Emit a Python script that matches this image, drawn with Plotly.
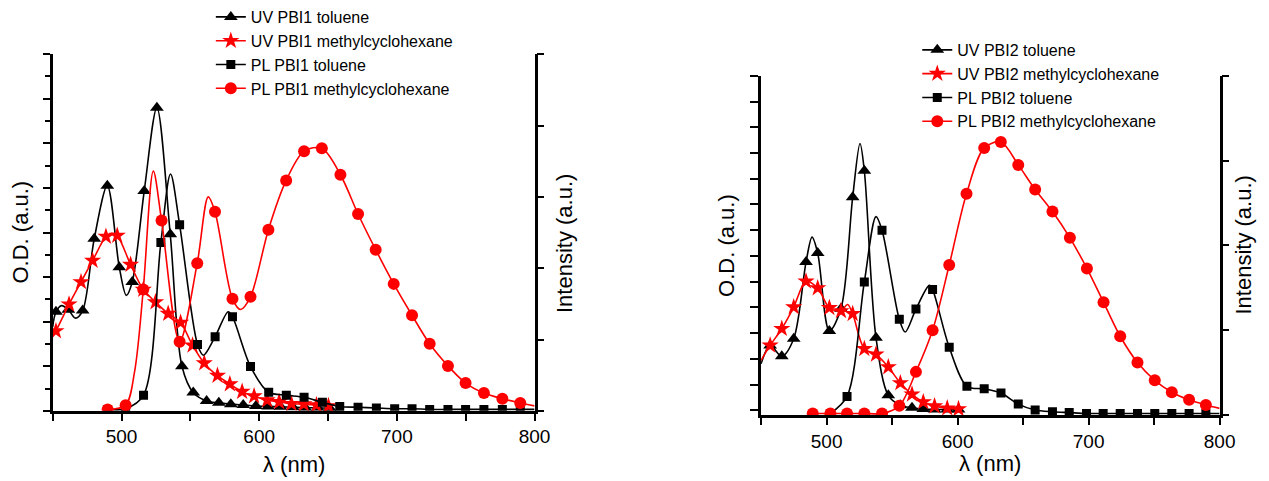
import plotly.graph_objects as go

# ================= PBI1 (left panel) =================
uv1_tol_wl = [452.4, 461.4, 471.8, 480.2, 489.7, 498.4, 507.8, 516.5, 525.7, 535.4, 543.9, 552.1,
              561.8, 570.7, 579.4, 588.4, 597.6, 606.5, 615.5, 624.5, 633.5, 642.5, 651.3]
uv1_tol_od = [2.22, 2.27, 2.25, 3.86, 5.05, 3.22, 2.89, 4.93, 6.80, 3.96, 1.00, 0.41,
              0.22, 0.18, 0.15, 0.13, 0.11, 0.10, 0.09, 0.08, 0.07, 0.07, 0.06]
uv1_tol_wl_x = [450.0, 456.5, 466.5, 503.5]
uv1_tol_od_x = [1.88, 2.36, 2.08, 2.59]

uv1_mch_wl = [452.4, 461.9, 470.6, 479.0, 488.7, 496.9, 506.6, 515.8, 524.7, 533.9, 542.9, 551.6,
              560.1, 569.7, 578.7, 587.6, 596.3, 605.8, 614.5, 623.4, 632.4, 641.6, 650.3]
uv1_mch_od = [1.79, 2.39, 2.89, 3.37, 3.91, 3.93, 3.28, 2.72, 2.44, 2.18, 1.98, 1.47,
              1.07, 0.79, 0.60, 0.43, 0.33, 0.24, 0.20, 0.16, 0.15, 0.13, 0.11]
uv1_mch_wl_x = [450.0, 492.8]
uv1_mch_od_x = [1.66, 3.98]

pl1_tol_wl = [489.9, 503.0, 516.0, 528.6, 542.2, 555.2, 568.0, 580.6, 593.7, 606.9, 619.7, 632.6,
              645.9, 658.5, 671.8, 685.1, 698.4, 711.0, 723.8, 737.1, 749.9, 763.2, 776.6, 789.6]
pl1_tol_int = [0.02, 0.03, 0.22, 2.36, 2.61, 0.93, 1.04, 1.32, 0.62, 0.26, 0.22, 0.19,
               0.12, 0.06, 0.05, 0.04, 0.03, 0.03, 0.02, 0.02, 0.02, 0.02, 0.02, 0.02]
pl1_tol_wl_x = [535.6, 559.5, 577.5, 800.0]
pl1_tol_int_x = [3.32, 0.78, 1.39, 0.02]

pl1_mch_wl = [489.9, 503.0, 515.8, 529.1, 542.2, 555.0, 567.9, 580.6, 593.7, 606.7, 619.6, 632.6,
              645.5, 659.0, 671.8, 684.6, 697.7, 711.0, 723.8, 737.1, 749.9, 763.2, 776.6, 789.6]
pl1_mch_int = [0.02, 0.08, 1.70, 2.67, 0.97, 2.07, 2.79, 1.57, 1.60, 2.54, 3.23, 3.64,
               3.68, 3.31, 2.76, 2.26, 1.78, 1.34, 0.94, 0.63, 0.39, 0.25, 0.17, 0.11]
pl1_mch_wl_x = [509.5, 523.1, 563.0, 586.5, 800.0]
pl1_mch_int_x = [0.55, 3.36, 3.00, 1.42, 0.07]

# ================= PBI2 (right panel) =================
uv2_tol_wl = [456.9, 465.8, 474.9, 484.3, 493.2, 502.1, 511.0, 519.9, 528.8, 537.7, 547.1, 556.3,
              565.2, 573.8, 582.4, 592.1, 600.7]
uv2_tol_od = [2.52, 2.10, 2.78, 5.76, 6.11, 3.08, 3.95, 8.28, 9.31, 2.82, 0.58, 0.19,
              0.10, 0.05, 0.03, 0.03, 0.03]
uv2_tol_wl_x = [450.0, 488.9, 525.5]
uv2_tol_od_x = [1.81, 6.73, 10.37]

uv2_mch_wl = [456.9, 465.8, 474.9, 484.3, 493.2, 502.1, 511.0, 519.9, 528.8, 537.7, 547.1, 556.3,
              565.2, 573.8, 582.4, 592.1, 600.7]
uv2_mch_od = [2.52, 3.17, 4.01, 5.01, 4.75, 3.98, 3.86, 3.75, 2.39, 2.17, 1.68, 1.06,
              0.62, 0.32, 0.16, 0.08, 0.05]
uv2_mch_wl_x = [450.0, 516.0]
uv2_mch_od_x = [1.94, 4.11]

pl2_tol_wl = [502.9, 515.6, 528.8, 542.3, 555.5, 568.2, 580.9, 593.6, 607.1, 620.3, 633.1,
              646.3, 659.2, 672.4, 685.2, 698.4, 711.1, 724.1, 737.3, 750.5, 763.5, 776.7, 789.5]
pl2_tol_int = [0.02, 0.22, 1.57, 2.18, 1.13, 1.25, 1.48, 0.80, 0.34, 0.31, 0.26,
               0.13, 0.06, 0.04, 0.03, 0.02, 0.02, 0.02, 0.02, 0.02, 0.02, 0.02, 0.02]
pl2_tol_wl_x = [537.7, 560.0, 578.4, 800.0]
pl2_tol_int_x = [2.34, 0.98, 1.53, 0.02]

pl2_mch_wl = [489.4, 502.9, 515.6, 528.8, 542.3, 555.5, 568.2, 580.9, 593.6, 606.8, 620.3, 633.0,
              646.3, 659.2, 672.4, 685.7, 698.7, 711.4, 724.1, 737.3, 750.5, 763.5, 776.7, 789.5]
pl2_mch_int = [0.02, 0.02, 0.02, 0.02, 0.02, 0.11, 0.51, 1.00, 1.77, 2.61, 3.15, 3.22,
               2.95, 2.66, 2.40, 2.09, 1.73, 1.33, 0.93, 0.62, 0.41, 0.27, 0.18, 0.12]
pl2_mch_wl_x = [800.0]
pl2_mch_int_x = [0.08]

names1 = ["UV PBI1 toluene", "UV PBI1 methylcyclohexane", "PL PBI1 toluene", "PL PBI1 methylcyclohexane"]
names2 = ["UV PBI2 toluene", "UV PBI2 methylcyclohexane", "PL PBI2 toluene", "PL PBI2 methylcyclohexane"]

FONT = "Arial, 'Liberation Sans', sans-serif"
BLACK = "#000000"
RED = "#ff0000"
styles = [
    dict(color=BLACK, symbol="triangle-up", size=12),
    dict(color=RED, symbol="star", size=13),
    dict(color=BLACK, symbol="square", size=9),
    dict(color=RED, symbol="circle", size=12),
]


def merged(wl, val, wlx, valx):
    pts = sorted(zip(list(wl) + list(wlx), list(val) + list(valx)))
    return [p[0] for p in pts], [p[1] for p in pts]


fig = go.Figure()


def add_series(name, wl, val, wlx, valx, st, xa, ya, legend):
    cx, cy = merged(wl, val, wlx, valx)
    fig.add_trace(go.Scatter(x=cx, y=cy, mode="lines", line=dict(color=st["color"], width=1.6, shape="spline", smoothing=0.9),
                             xaxis=xa, yaxis=ya, showlegend=False, hoverinfo="skip"))
    fig.add_trace(go.Scatter(x=wl, y=val, mode="markers",
                             marker=dict(color=st["color"], symbol=st["symbol"], size=st["size"], line=dict(width=0)),
                             xaxis=xa, yaxis=ya, showlegend=False, name=name))
    fig.add_trace(go.Scatter(x=[None], y=[None], mode="lines+markers", name=name,
                             line=dict(color=st["color"], width=1.6),
                             marker=dict(color=st["color"], symbol=st["symbol"], size=st["size"], line=dict(width=0)),
                             xaxis=xa, yaxis=ya, legend=legend))


left = [(uv1_tol_wl, uv1_tol_od, uv1_tol_wl_x, uv1_tol_od_x, "y"),
        (uv1_mch_wl, uv1_mch_od, uv1_mch_wl_x, uv1_mch_od_x, "y"),
        (pl1_tol_wl, pl1_tol_int, pl1_tol_wl_x, pl1_tol_int_x, "y2"),
        (pl1_mch_wl, pl1_mch_int, pl1_mch_wl_x, pl1_mch_int_x, "y2")]
right = [(uv2_tol_wl, uv2_tol_od, uv2_tol_wl_x, uv2_tol_od_x, "y3"),
         (uv2_mch_wl, uv2_mch_od, uv2_mch_wl_x, uv2_mch_od_x, "y3"),
         (pl2_tol_wl, pl2_tol_int, pl2_tol_wl_x, pl2_tol_int_x, "y4"),
         (pl2_mch_wl, pl2_mch_int, pl2_mch_wl_x, pl2_mch_int_x, "y4")]

for i, (wl, v, wx, vx, ya) in enumerate(left):
    add_series(names1[i], wl, v, wx, vx, styles[i], "x", ya, "legend")
for i, (wl, v, wx, vx, ya) in enumerate(right):
    add_series(names2[i], wl, v, wx, vx, styles[i], "x2", ya, "legend2")

W, H = 1269, 481
WX = 1254.0   # horizontal extent of the figure as it appears in the photographed page
L1, R1, T1, B1 = 52.7, 535.0, 53.3, 410.7
L2, R2, T2, B2 = 761.7, 1220.6, 75.0, 415.0

AX_LW = 2.5
xcommon = dict(range=[450, 800], showline=True, linecolor=BLACK, linewidth=AX_LW, mirror=False,
               ticks="outside", ticklen=7, tickwidth=2, tickcolor=BLACK, dtick=100, tick0=500,
               minor=dict(dtick=50, ticks="outside", ticklen=7, tickwidth=2, tickcolor=BLACK, showgrid=False),
               showgrid=False, zeroline=False,
               tickfont=dict(family=FONT, size=19, color=BLACK))
ycommon = dict(showline=True, linecolor=BLACK, linewidth=AX_LW, ticks="outside", tickwidth=2,
               tickcolor=BLACK, showticklabels=False, showgrid=False, zeroline=False)

fig.update_layout(
    width=W, height=H, autosize=False, margin=dict(l=0, r=0, t=0, b=0),
    paper_bgcolor="white", plot_bgcolor="white",
    font=dict(family=FONT, color=BLACK),
    xaxis=dict(domain=[L1 / WX, R1 / WX], anchor="y", **xcommon),
    yaxis=dict(domain=[1 - B1 / H, 1 - T1 / H], anchor="x", range=[0, 8], dtick=1, ticklen=7,
               minor=dict(dtick=0.5, ticks="outside", ticklen=5, tickwidth=2, tickcolor=BLACK, showgrid=False),
               **ycommon),
    yaxis2=dict(overlaying="y", side="right", anchor="x", range=[0, 5], dtick=1, ticklen=7, **ycommon),
    xaxis2=dict(domain=[L2 / WX, R2 / WX], anchor="y3", **xcommon),
    yaxis3=dict(domain=[1 - B2 / H, 1 - T2 / H], anchor="x2", range=[-0.19, 13], dtick=1, tick0=0, ticklen=8,
                **ycommon),
    yaxis4=dict(overlaying="y3", side="right", anchor="x2", range=[0, 4], dtick=1, ticklen=7, **ycommon),
    legend=dict(x=211 / WX, y=1 + 1 / H, xanchor="left", yanchor="top", bgcolor="rgba(0,0,0,0)",
                font=dict(family=FONT, size=16, color=BLACK), tracegroupgap=0, itemwidth=30),
    legend2=dict(x=918 / WX, y=1 - 32 / H, xanchor="left", yanchor="top", bgcolor="rgba(0,0,0,0)",
                 font=dict(family=FONT, size=16, color=BLACK), tracegroupgap=0, itemwidth=30),
)

title_font = dict(family=FONT, size=22, color=BLACK)
ann = [
    dict(text="O.D. (a.u.)", x=21 / WX, y=1 - 231 / H, textangle=-90),
    dict(text="Intensity (a.u.)", x=565 / WX, y=1 - 243 / H, textangle=-90),
    dict(text="λ (nm)", x=(L1 + R1) / 2 / WX, y=1 - 464 / H, textangle=0),
    dict(text="O.D. (a.u.)", x=727 / WX, y=1 - 245 / H, textangle=-90),
    dict(text="Intensity (a.u.)", x=1244 / WX, y=1 - 245 / H, textangle=-90),
    dict(text="λ (nm)", x=(L2 + R2) / 2 / WX, y=1 - 463 / H, textangle=0),
]
for a in ann:
    fig.add_annotation(xref="paper", yref="paper", showarrow=False, xanchor="center", yanchor="middle",
                       font=title_font, **a)

fig.write_html("out.html", config={"displayModeBar": False, "responsive": False},
               post_script="document.body.style.margin='0px';document.body.style.overflow='hidden';")
